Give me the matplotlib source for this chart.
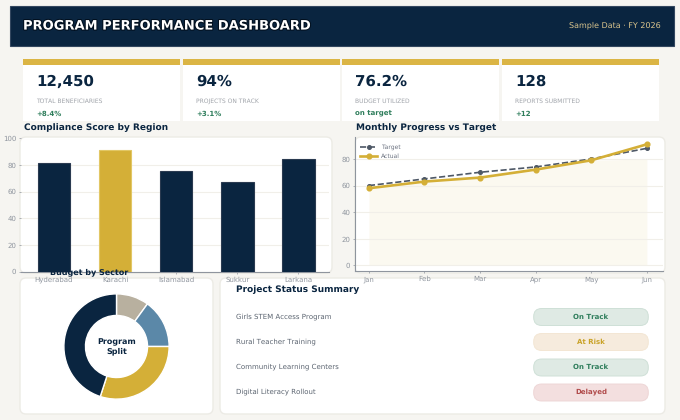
import matplotlib
matplotlib.use("Agg")
import matplotlib.pyplot as plt
import matplotlib.patheffects as pe
from matplotlib.patches import FancyBboxPatch, Rectangle

plt.rcParams["text.hinting"] = "no_hinting"
plt.rcParams["text.hinting_factor"] = 1

NAVY = "#0a2540"
GOLD = "#d4af37"
GREY = "#8f959e"
BG = "#f6f5f1"

kpi_values = ["12,450", "94%", "76.2%", "128"]
kpi_labels = ["TOTAL BENEFICIARIES", "PROJECTS ON TRACK", "BUDGET UTILIZED", "REPORTS SUBMITTED"]
kpi_deltas = ["+8.4%", "+3.1%", "on target", "+12"]

regions = ["Hyderabad", "Karachi", "Islamabad", "Sukkur", "Larkana"]
scores = [81.5, 91, 75.5, 67.5, 84.5]

months = ["Jan", "Feb", "Mar", "Apr", "May", "Jun"]
target = [60, 65, 70, 74, 80, 88]
actual = [58, 63, 66, 72, 79, 91]
shade_top = [58, 63, 66, 72, 79, 80]

sector_shares = [10, 15, 30, 45]
sector_colors = ["#b8b09f", "#5b88a8", GOLD, NAVY]

projects = ["Girls STEM Access Program", "Rural Teacher Training",
            "Community Learning Centers", "Digital Literacy Rollout"]
statuses = ["On Track", "At Risk", "On Track", "Delayed"]
status_styles = {
    "On Track": ("#dfeae4", "#cfe0d7", "#2e7d5b"),
    "At Risk": ("#f6ebdd", "#f3e6d4", "#c9a227"),
    "Delayed": ("#f3dfdf", "#eed6d6", "#b04a4a"),
}

W, H = 680, 420
fig = plt.figure(figsize=(W / 100, H / 100), dpi=100, facecolor=BG)


def px_axes(x0, y0, x1, y1, **kw):
    # axes placed by pixel box, y measured from the top of the image
    return fig.add_axes([x0 / W, 1 - y1 / H, (x1 - x0) / W, (y1 - y0) / H], **kw)


# background layer: header, cards, panels
bg = fig.add_axes([0, 0, 1, 1], zorder=0)
bg.set_xlim(0, W)
bg.set_ylim(H, 0)
bg.axis("off")


def panel(x0, y0, x1, y1):
    bg.add_patch(FancyBboxPatch((x0 + 4, y0 + 4), x1 - x0 - 8, y1 - y0 - 8,
                                boxstyle="round,pad=4,rounding_size=6",
                                fc="white", ec="#ecebe5", lw=1))


bg.add_patch(Rectangle((10, 6), 664, 40, fc=NAVY, ec="#33475f", lw=0.8))
bg.text(23, 26, "PROGRAM PERFORMANCE DASHBOARD", color="white", fontsize=9.4,
        fontweight="bold", va="center",
        path_effects=[pe.withStroke(linewidth=1.5, foreground="#02101f")])
bg.text(661, 25.5, "Sample Data · FY 2026", color="#d9c48d", fontsize=5.5, ha="right", va="center")

card_lefts = [23, 183, 342, 502]
for left, val, lab, delta in zip(card_lefts, kpi_values, kpi_labels, kpi_deltas):
    bg.add_patch(Rectangle((left, 59), 156.5, 62, fc="white", ec="none"))
    bg.add_patch(Rectangle((left, 59), 156.5, 6, fc="#dbb545", ec="none"))
    bg.text(left + 13, 82, val, color=NAVY, fontsize=10.6, fontweight="bold", va="center")
    bg.text(left + 13, 101.5, lab, color="#a0a4aa", fontsize=4.5, va="center")
    bg.text(left + 13, 114, delta, color="#2e7d5b", fontsize=4.8, fontweight="bold", va="center")

panel(20, 137, 332, 273)
panel(355, 137, 665, 273)
panel(20, 278, 213, 414)
panel(220, 278, 665, 414)

# compliance bars
ax1 = px_axes(21, 138.5, 329, 271.5, zorder=1)
ax1.patch.set_alpha(0)
bar_colors = [NAVY, GOLD, NAVY, NAVY, NAVY]
bar_edges = ["#2a3a50", "#e2c765", "#2a3a50", "#2a3a50", "#2a3a50"]
ax1.bar(range(len(regions)), scores, width=0.53, color=bar_colors, edgecolor=bar_edges, linewidth=0.8, zorder=3)
ax1.set_xlim(-0.54, 4.5)
ax1.set_ylim(0, 100)
ax1.set_xticks(range(len(regions)))
ax1.set_xticklabels(regions)
ax1.set_yticks(range(0, 101, 20))
ax1.grid(axis="y", color="#f1efe9", lw=0.8, zorder=0)
ax1.tick_params(colors=GREY, labelsize=4.8, length=1.5, width=0.5, pad=2)
for side in ("top", "right", "left"):
    ax1.spines[side].set_visible(False)
ax1.spines["bottom"].set_color(GREY)
ax1.spines["bottom"].set_linewidth(0.8)

# monthly progress
ax2 = px_axes(355, 137, 663, 271, zorder=1)
ax2.patch.set_alpha(0)
xs = range(len(months))
ax2.fill_between(xs, 0, shade_top, color=GOLD, alpha=0.07, lw=0)
ax2.plot(xs, target, color="#4e5866", ls="--", lw=1.2, marker="o", ms=2.6, label="Target", zorder=3)
ax2.plot(xs, actual, color=GOLD, lw=1.9, marker="o", ms=3.4, label="Actual", zorder=4)
ax2.set_xlim(-0.25, 5.29)
ax2.set_ylim(-4.2, 96.5)
ax2.set_xticks(list(xs))
ax2.set_xticklabels(months)
ax2.set_yticks(range(0, 81, 20))
ax2.grid(axis="y", color="#f1efe9", lw=0.8, zorder=0)
ax2.tick_params(colors=GREY, labelsize=4.8, length=1.5, width=0.5, pad=2)
for side in ("top", "right"):
    ax2.spines[side].set_visible(False)
for side in ("left", "bottom"):
    ax2.spines[side].set_color(GREY)
    ax2.spines[side].set_linewidth(0.8)
ax2.legend(loc="upper left", frameon=False, fontsize=4.6, labelcolor="#6b7280",
           borderaxespad=0.2, labelspacing=0.5, handlelength=2.6, handletextpad=0.6,
           bbox_to_anchor=(0.005, 0.975))

# budget donut
ax3 = px_axes(56, 286, 177, 407, zorder=1)
ax3.pie(sector_shares, colors=sector_colors, startangle=90, counterclock=False, radius=1,
        wedgeprops=dict(width=0.41, edgecolor="white", linewidth=1))
ax3.set_xlim(-1.15, 1.15)
ax3.set_ylim(-1.15, 1.15)
ax3.text(0, 0.0, "Program\nSplit", ha="center", va="center", color=NAVY, fontsize=5.5,
         fontweight="bold", linespacing=1.15)

# titles and status rows go on top of everything
top = fig.add_axes([0, 0, 1, 1], zorder=5)
top.set_xlim(0, W)
top.set_ylim(H, 0)
top.axis("off")
top.patch.set_alpha(0)
top.text(23.5, 127.5, "Compliance Score by Region", color=NAVY, fontsize=6.4, fontweight="bold", va="center")
top.text(356, 127.5, "Monthly Progress vs Target", color=NAVY, fontsize=6.4, fontweight="bold", va="center")
top.text(50, 272, "Budget by Sector", color=NAVY, fontsize=6.1, fontweight="bold", va="center")
top.text(236, 289.5, "Project Status Summary", color=NAVY, fontsize=6.4, fontweight="bold", va="center")

row_ys = [316.5, 341.5, 367, 392]
for y, name, status in zip(row_ys, projects, statuses):
    fill, edge, text_color = status_styles[status]
    top.text(236, y, name, color="#5b6470", fontsize=5.25, va="center")
    top.add_patch(FancyBboxPatch((542, y + 0.3), 98, 0.4, boxstyle="round,pad=8.3,rounding_size=8",
                                 fc=fill, ec=edge, lw=0.7))
    top.text(591, y, status, color=text_color, fontsize=4.7, fontweight="bold", ha="center", va="center")

fig.savefig("out.png", dpi=100, facecolor=BG)
